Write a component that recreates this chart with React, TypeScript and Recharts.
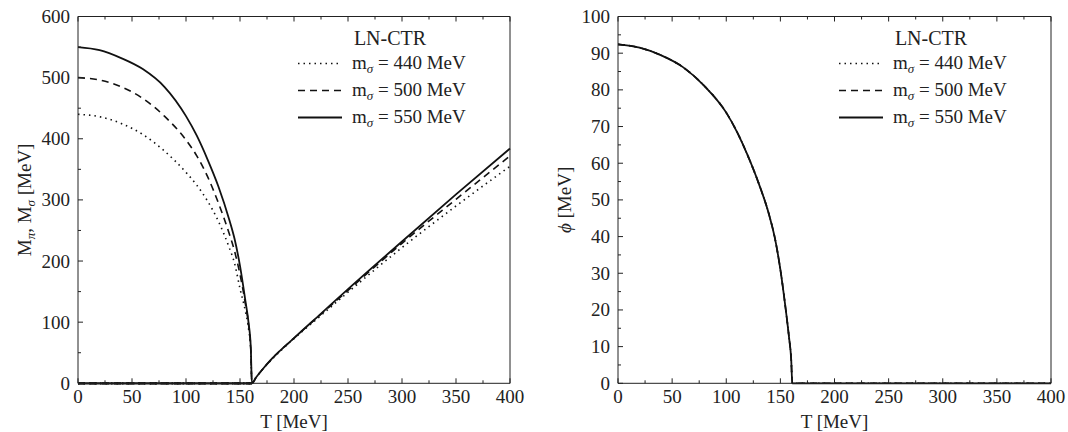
import { LineChart, Line, XAxis, YAxis, Legend } from "recharts";

// temperatures (MeV): below and above the chiral transition
const tBelow = [0, 20, 40, 60, 80, 100, 110, 120, 130, 140, 145, 150, 155, 158, 160, 161];
const tAbove = [165, 170, 180, 200, 225, 250, 300, 350, 400];

// sigma mass below Tc, one array per m_sigma
const sigma440Below = [440, 436, 425, 407, 380, 345, 324, 298, 265, 222, 196, 155, 118, 88, 52, 0];
const sigma500Below = [500, 496, 485, 466, 437, 398, 372, 338, 295, 245, 216, 178, 130, 95, 55, 0];
const sigma550Below = [550, 545, 532, 514, 485, 437, 405, 366, 322, 268, 236, 192, 135, 98, 58, 0];

// degenerate pion / sigma mass above Tc
const mass440Above = [10, 21, 40, 73, 111, 149, 222, 290, 355];
const mass500Above = [10, 21, 41, 74, 113, 152, 229, 301, 372];
const mass550Above = [10, 21, 41, 74, 114, 154, 232, 309, 384];

// condensate (same for all three m_sigma)
const phiBelow = [92.4, 91.5, 89.4, 86.2, 81.0, 73.8, 68.5, 62.0, 54.5, 45.5, 39.5, 31.0, 20.0, 12.5, 6.5, 0];
const phiAbove = [0, 0, 0, 0, 0, 0, 0, 0, 0];

const massLabels = ["440", "500", "550"];

const xTicks = [0, 25, 50, 75, 100, 125, 150, 175, 200, 225, 250, 275, 300, 325, 350, 375, 400];
const massTicks = [0, 50, 100, 150, 200, 250, 300, 350, 400, 450, 500, 550, 600];
const phiTicks = [0, 5, 10, 15, 20, 25, 30, 35, 40, 45, 50, 55, 60, 65, 70, 75, 80, 85, 90, 95, 100];

const temps = [...tBelow, ...tAbove];
const nb = tBelow.length;

const massRows = temps.map((T, i) => ({
  T,
  s440: i < nb ? sigma440Below[i] : mass440Above[i - nb],
  s500: i < nb ? sigma500Below[i] : mass500Above[i - nb],
  s550: i < nb ? sigma550Below[i] : mass550Above[i - nb],
  pion: i < nb ? 0 : null,
}));

const phiRows = temps.map((T, i) => ({
  T,
  phi: i < nb ? phiBelow[i] : phiAbove[i - nb],
}));

const FONT = "'Liberation Serif', 'Times New Roman', serif";
const INK = "#222";
const LINE = "#111";

const dashes: Record<string, string | undefined> = {
  "440": "1.5 4",
  "500": "7 5",
  "550": undefined,
};
const widths: Record<string, number> = { "440": 1.6, "500": 1.6, "550": 1.8 };

type Side = "bottom" | "top" | "left" | "right";

function makeTick(side: Side, majorStep: number) {
  return (props: any) => {
    const { x, y, payload } = props;
    const v = payload.value;
    const major = Math.abs(v % majorStep) < 1e-9;
    const len = major ? 5 : 3;
    let line;
    if (side === "bottom") line = <line x1={x} x2={x} y1={y} y2={y - len} />;
    else if (side === "top") line = <line x1={x} x2={x} y1={y} y2={y + len} />;
    else if (side === "left") line = <line x1={x} x2={x + len} y1={y} y2={y} />;
    else line = <line x1={x} x2={x - len} y1={y} y2={y} />;
    return (
      <g stroke={INK} strokeWidth={1}>
        {line}
        {major && side === "bottom" && (
          <text x={x} y={y + 20} textAnchor="middle" fontFamily={FONT} fontSize={19} fill={INK} stroke="none">
            {v}
          </text>
        )}
        {major && side === "left" && (
          <text x={x - 8} y={y + 6.5} textAnchor="end" fontFamily={FONT} fontSize={19} fill={INK} stroke="none">
            {v}
          </text>
        )}
      </g>
    );
  };
}

function XTitle(props: any) {
  const { x, y, width } = props.viewBox;
  return (
    <text x={x + width / 2} y={y + 44.5} textAnchor="middle" fontFamily={FONT} fontSize={19} fill={INK}>
      T [MeV]
    </text>
  );
}

function MassTitle(props: any) {
  const { x, y, height } = props.viewBox;
  const cx = x - 46;
  const cy = y + height / 2;
  return (
    <text x={cx} y={cy} transform={`rotate(-90 ${cx} ${cy})`} textAnchor="middle" fontFamily={FONT} fontSize={19} fill={INK}>
      M
      <tspan dy={4} fontSize={13} fontStyle="italic">π</tspan>
      <tspan dy={-4}>, M</tspan>
      <tspan dy={4} fontSize={13} fontStyle="italic">σ</tspan>
      <tspan dy={-4}> [MeV]</tspan>
    </text>
  );
}

function PhiTitle(props: any) {
  const { x, y, height } = props.viewBox;
  const cx = x - 46;
  const cy = y + height / 2;
  return (
    <text x={cx} y={cy} transform={`rotate(-90 ${cx} ${cy})`} textAnchor="middle" fontFamily={FONT} fontSize={19} fill={INK}>
      <tspan fontStyle="italic">ϕ</tspan> [MeV]
    </text>
  );
}

function makeLegend(plotRight: number) {
  return (props: any) => {
    const seen = new Set<string>();
    const payload = (props.payload || []).filter((e: any) => {
      const k = String(e.value);
      if (!massLabels.includes(k) || seen.has(k)) return false;
      seen.add(k);
      return true;
    });
    const x0 = plotRight - 212;
    return (
      <svg width={534} height={140} style={{ pointerEvents: "none" }}>
        <text x={plotRight - 120} y={45} textAnchor="middle" fontFamily={FONT} fontSize={20} fill={INK}>
          LN-CTR
        </text>
        {payload.map((entry: any, i: number) => {
          const key = String(entry.value);
          const cy = 63.5 + i * 27;
          return (
            <g key={key}>
              <line x1={x0} x2={x0 + 44} y1={cy} y2={cy} stroke={LINE} strokeWidth={widths[key]} strokeDasharray={dashes[key]} />
              <text x={x0 + 54} y={cy + 5.5} fontFamily={FONT} fontSize={19} fill={INK}>
                m
                <tspan dy={4} fontSize={13} fontStyle="italic">σ</tspan>
                <tspan dy={-4}>{` = ${key} MeV`}</tspan>
              </text>
            </g>
          );
        })}
      </svg>
    );
  };
}

const axisLine = { stroke: INK, strokeWidth: 1 };

function Frame({ yTicks, yMax, yStep, xAxisTitle, yTitle }: any) {
  return [
    <XAxis key="xb" xAxisId="b" type="number" dataKey="T" domain={[0, 400]} ticks={xTicks} interval={0}
      tick={makeTick("bottom", 50)} tickLine={false} tickSize={0} tickMargin={0}
      height={1} axisLine={axisLine} label={xAxisTitle} />,
    <XAxis key="xt" xAxisId="t" orientation="top" type="number" dataKey="T" domain={[0, 400]} ticks={xTicks}
      interval={0} tick={makeTick("top", 50)} tickLine={false} tickSize={0} tickMargin={0}
      height={1} axisLine={axisLine} />,
    <YAxis key="yl" yAxisId="l" type="number" domain={[0, yMax]} ticks={yTicks} interval={0}
      tick={makeTick("left", yStep)} tickLine={false} tickSize={0} tickMargin={0} width={1}
      axisLine={axisLine} label={yTitle} />,
    <YAxis key="yr" yAxisId="r" orientation="right" type="number" domain={[0, yMax]} ticks={yTicks} interval={0}
      tick={makeTick("right", yStep)} tickLine={false} tickSize={0} tickMargin={0} width={1}
      axisLine={axisLine} />,
  ];
}

function MassChart() {
  const margin = { top: 15.5, right: 23, bottom: 47.7, left: 77 };
  return (
    <LineChart width={534} height={432} data={massRows} margin={margin}>
      {Frame({ yTicks: massTicks, yMax: 600, yStep: 100, xAxisTitle: <XTitle />, yTitle: <MassTitle /> })}
      {massLabels.map((m) => (
        <Line key={m} name={m} xAxisId="b" yAxisId="l" type="monotone" dataKey={`s${m}`} stroke={LINE}
          strokeWidth={widths[m]} strokeDasharray={dashes[m]} dot={false} activeDot={false}
          isAnimationActive={false} />
      ))}
      {massLabels.map((m) => (
        <Line key={`p${m}`} name={`pion ${m}`} legendType="none" xAxisId="b" yAxisId="l" type="linear"
          dataKey="pion" stroke={LINE} strokeWidth={2.2} strokeDasharray={dashes[m]} dot={false}
          activeDot={false} isAnimationActive={false} />
      ))}
      <Legend layout="vertical" align="center" verticalAlign="middle" content={makeLegend(510)}
        wrapperStyle={{ position: "absolute", left: 0, top: 0, width: 534, height: 140 }} />
    </LineChart>
  );
}

function PhiChart() {
  const margin = { top: 15.5, right: 16, bottom: 47.7, left: 83 };
  return (
    <LineChart width={534} height={432} data={phiRows} margin={margin}>
      {Frame({ yTicks: phiTicks, yMax: 100, yStep: 10, xAxisTitle: <XTitle />, yTitle: <PhiTitle /> })}
      {massLabels.map((m) => (
        <Line key={m} name={m} xAxisId="b" yAxisId="l" type="monotone" dataKey="phi" stroke={LINE}
          strokeWidth={widths[m]} strokeDasharray={dashes[m]} dot={false} activeDot={false}
          isAnimationActive={false} />
      ))}
      <Legend layout="vertical" align="center" verticalAlign="middle" content={makeLegend(517)}
        wrapperStyle={{ position: "absolute", left: 0, top: 0, width: 534, height: 140 }} />
    </LineChart>
  );
}

export default function App() {
  return (
    <div style={{ position: "absolute", left: 0, top: 0, width: 1068, height: 432, display: "flex", background: "#fff" }}>
      <MassChart />
      <PhiChart />
    </div>
  );
}
